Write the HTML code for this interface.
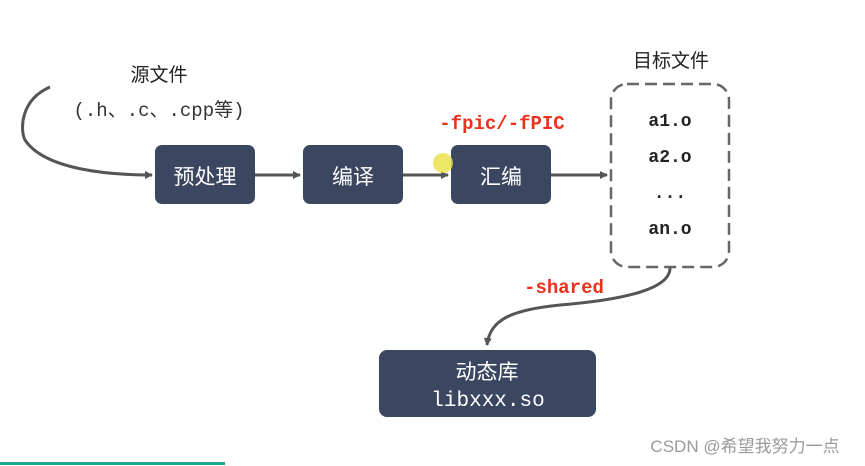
<!DOCTYPE html>
<html><head><meta charset="utf-8"><style>
html,body{margin:0;padding:0;background:#fff;}
svg{display:block;}
</style></head><body>
<svg width="865" height="466" viewBox="0 0 865 466" xmlns="http://www.w3.org/2000/svg">
<defs><marker id="a" markerWidth="8" markerHeight="8" refX="7" refY="4" orient="auto" markerUnits="userSpaceOnUse"><path d="M0,0 L8,4 L0,8 z" fill="#555"/></marker></defs>
<g font-family="Liberation Sans, Noto Sans CJK SC, sans-serif">
<text x="159" y="81" font-size="19" text-anchor="middle" fill="#222">源文件</text>
<text x="159" y="116" font-size="19" text-anchor="middle" fill="#333" font-family="Liberation Mono, Noto Sans CJK SC, monospace">(.h、.c、.cpp等)</text>
<path d="M50,87 C20,100 20,130 25,140 C45,170 110,175 152,175" fill="none" stroke="#555" stroke-width="3" marker-end="url(#a)"/>
<rect x="155" y="145" width="100" height="59" rx="7" fill="#3b4660"/>
<rect x="303" y="145" width="100" height="59" rx="7" fill="#3b4660"/>
<rect x="451" y="145" width="100" height="59" rx="7" fill="#3b4660"/>
<text x="205" y="184" font-size="21" fill="#fff" text-anchor="middle">预处理</text>
<text x="353" y="184" font-size="21" fill="#fff" text-anchor="middle">编译</text>
<text x="501" y="184" font-size="21" fill="#fff" text-anchor="middle">汇编</text>
<line x1="255" y1="175" x2="300" y2="175" stroke="#555" stroke-width="3" marker-end="url(#a)"/>
<line x1="403" y1="175" x2="448" y2="175" stroke="#555" stroke-width="3" marker-end="url(#a)"/>
<line x1="551" y1="175" x2="607" y2="175" stroke="#555" stroke-width="3" marker-end="url(#a)"/>
<circle cx="443" cy="163" r="10" fill="#e8e040" opacity="0.8"/>
<text x="502" y="129" font-size="19" font-weight="bold" fill="#e8321e" text-anchor="middle" font-family="Liberation Mono, monospace">-fpic/-fPIC</text>
<text x="671" y="67" font-size="19" fill="#222" text-anchor="middle">目标文件</text>
<rect x="611" y="84" width="118" height="183" rx="16" fill="none" stroke="#666" stroke-width="2.5" stroke-dasharray="12,6"/>
<g font-family="Liberation Mono, monospace" font-size="18" font-weight="bold" fill="#222" text-anchor="middle">
<text x="670" y="126">a1.o</text><text x="670" y="162">a2.o</text><text x="670" y="198">...</text><text x="670" y="234">an.o</text>
<text x="564" y="293" font-size="19" fill="#e8321e">-shared</text>
</g>
<path d="M670,268 C670,290 620,300 560,305 C510,310 490,320 487,345" fill="none" stroke="#555" stroke-width="3" marker-end="url(#a)"/>
<rect x="379" y="350" width="217" height="67" rx="8" fill="#3b4660"/>
<text x="487" y="379" font-size="21" fill="#fff" text-anchor="middle">动态库</text>
<text x="488" y="406" font-size="21" fill="#fff" text-anchor="middle" font-family="Liberation Mono, monospace">libxxx.so</text>
<text x="745" y="452" font-size="17" fill="#999" text-anchor="middle">CSDN @希望我努力一点</text>
<rect x="0" y="462" width="225" height="3" fill="#1aa88e"/>
</g>
</svg>
</body></html>
